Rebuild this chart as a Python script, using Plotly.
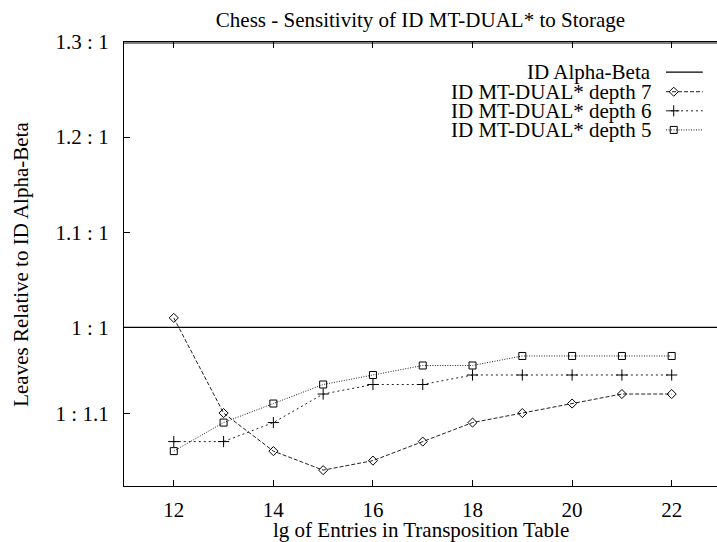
import plotly.graph_objects as go

# lg of transposition table entries
lg_entries = [12, 13, 14, 15, 16, 17, 18, 19, 20, 21, 22]

# leaves relative to ID Alpha-Beta
depth7 = [1.01, 0.91, 0.87, 0.85, 0.86, 0.88, 0.90, 0.91, 0.92, 0.93, 0.93]
depth6 = [0.88, 0.88, 0.90, 0.93, 0.94, 0.94, 0.95, 0.95, 0.95, 0.95, 0.95]
depth5 = [0.87, 0.90, 0.92, 0.94, 0.95, 0.96, 0.96, 0.97, 0.97, 0.97, 0.97]
alpha_beta = 1.0

ytick_vals = [1 / 1.1, 1.0, 1.1, 1.2, 1.3]
ytick_text = ['1 : 1.1', '1 : 1', '1.1 : 1', '1.2 : 1', '1.3 : 1']
xtick_vals = [12, 14, 16, 18, 20, 22]

FONT = 'Liberation Serif, Times New Roman, serif'
FS = 21

XR = [11, 22.91]
YR = [1 / 1.2, 1.3]

series = [
    ('ID MT-DUAL* depth 7', depth7, 'diamond-open', 7, '4px,2px'),
    ('ID MT-DUAL* depth 6', depth6, 'cross-thin-open', 8, '2px,3px'),
    ('ID MT-DUAL* depth 5', depth5, 'square-open', 7, '1px,1.5px'),
]


def fx(f):
    return XR[0] + f * (XR[1] - XR[0])


def fy(f):
    return YR[0] + f * (YR[1] - YR[0])


fig = go.Figure()

fig.add_hline(y=alpha_beta, line=dict(color='black', width=1.2))
# top frame of the plot box
fig.add_hline(y=fy(1 - 1 / 444), line=dict(color='black', width=1.2))

for name, vals, sym, size, dash in series:
    fig.add_trace(go.Scatter(
        x=lg_entries, y=vals, mode='lines+markers', name=name,
        line=dict(color='#222', width=1, dash=dash),
        marker=dict(symbol=sym, size=size, color='black',
                    line=dict(color='black', width=1)),
        showlegend=False
    ))

# gnuplot-style key (text first, then the sample), placed in plot fractions
key_rows = [0.932, 0.888, 0.845, 0.802]
key_text_x = 0.8916
key_line = [fx(0.914), fx(0.976)]
key_mark_x = fx(0.927)

fig.add_trace(go.Scatter(
    x=key_line, y=[fy(key_rows[0])] * 2, mode='lines',
    line=dict(color='black', width=1.2), showlegend=False, hoverinfo='skip'
))
for row, (name, vals, sym, size, dash) in zip(key_rows[1:], series):
    fig.add_trace(go.Scatter(
        x=key_line, y=[fy(row)] * 2, mode='lines',
        line=dict(color='#222', width=1, dash=dash),
        showlegend=False, hoverinfo='skip'
    ))
    fig.add_trace(go.Scatter(
        x=[key_mark_x], y=[fy(row)], mode='markers',
        marker=dict(symbol=sym, size=size, color='black',
                    line=dict(color='black', width=1)),
        showlegend=False, hoverinfo='skip'
    ))

key_names = ['ID Alpha-Beta'] + [s[0] for s in series]
annotations = [
    dict(text=t, x=key_text_x, y=r, xref='paper', yref='paper',
         xanchor='right', yanchor='middle', showarrow=False,
         font=dict(family=FONT, size=FS, color='black'))
    for t, r in zip(key_names, key_rows)
]
annotations.append(dict(
    text='lg of Entries in Transposition Table', x=0.5, y=-0.10,
    xref='paper', yref='paper', xanchor='center', yanchor='middle',
    showarrow=False, font=dict(family=FONT, size=FS, color='black')))
annotations.append(dict(
    text='Leaves Relative to ID Alpha-Beta', x=-0.174, y=0.5, textangle=-90,
    xref='paper', yref='paper', xanchor='center', yanchor='middle',
    showarrow=False, font=dict(family=FONT, size=FS, color='black')))

axis_common = dict(ticks='inside', ticklen=6, tickcolor='black',
                   showline=True, linecolor='black', linewidth=1.2,
                   showgrid=False, zeroline=False)

fig.update_layout(
    width=717, height=542,
    margin=dict(l=124, r=0, t=42, b=56),
    paper_bgcolor='white', plot_bgcolor='white',
    font=dict(family=FONT, size=FS, color='black'),
    title=dict(text='Chess - Sensitivity of ID MT-DUAL* to Storage',
               x=0.5, xref='paper', y=1 - 20 / 542, yref='container',
               xanchor='center', yanchor='middle',
               font=dict(family=FONT, size=FS, color='black')),
    xaxis=dict(range=XR, tickvals=xtick_vals, ticklabelstandoff=5,
               mirror='ticks', **axis_common),
    yaxis=dict(range=YR, tickvals=ytick_vals, ticktext=ytick_text,
               ticklabelstandoff=10, **axis_common),
    annotations=annotations,
    showlegend=False
)

fig.write_html("out.html", config={'displayModeBar': False},
               post_script="document.body.style.margin = '0';")
